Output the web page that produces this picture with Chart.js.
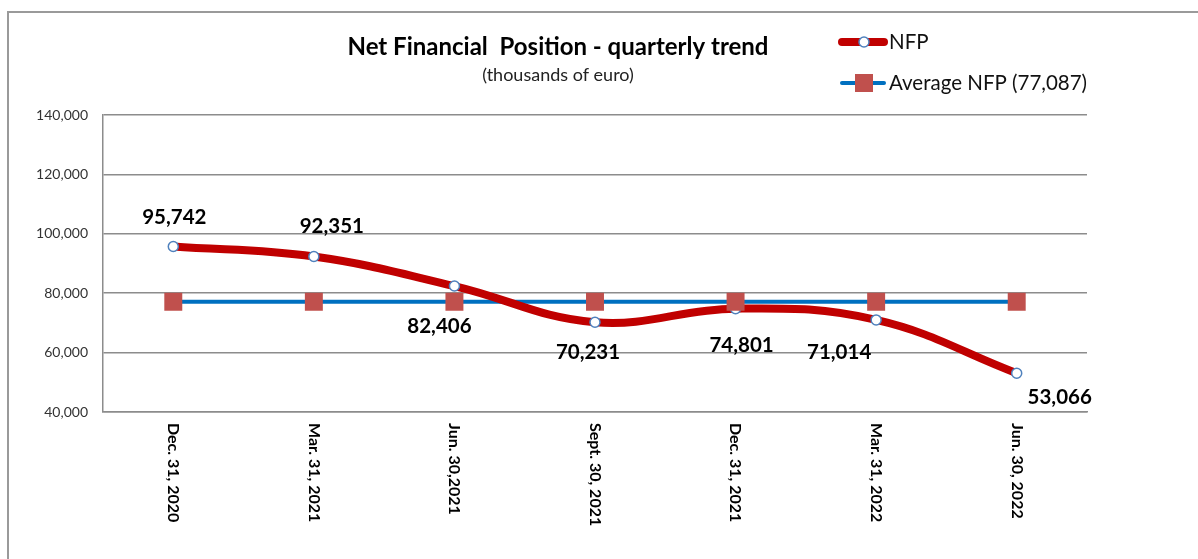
<!DOCTYPE html>
<html>
<head>
<meta charset="utf-8">
<script src="https://cdn.jsdelivr.net/npm/chart.js@4/dist/chart.umd.min.js"></script>
<style>
  html, body { margin: 0; padding: 0; background: #fff; }
  #wrap { position: relative; width: 1198px; height: 559px; }
  #frame { position: absolute; left: 7px; top: 11px; right: 0; bottom: 0; border-top: 2px solid #9a9a9a; border-left: 2px solid #9a9a9a; pointer-events: none; }
  canvas { position: absolute; left: 0; top: 0; }
</style>
</head>
<body>
<div id="wrap">
  <canvas id="c" width="1198" height="559"></canvas>
  <div id="frame"></div>
</div>
<script>
const categories = ["Dec. 31, 2020", "Mar. 31, 2021", "Jun. 30,2021", "Sept. 30, 2021", "Dec. 31, 2021", "Mar. 31, 2022", "Jun. 30, 2022"];
const nfpValues = [95742, 92351, 82406, 70231, 74801, 71014, 53066];
const avgValues = [77087, 77087, 77087, 77087, 77087, 77087, 77087];
const yTicks = [40000, 60000, 80000, 100000, 120000, 140000];
const titleText = "Net Financial  Position - quarterly trend";
const subtitleText = "(thousands of euro)";
const legendNFP = "NFP";
const legendAvg = "Average NFP (77,087)";

const FONT = "Lato, 'Liberation Sans', sans-serif";
const RED = "#C00000";
const BLUE = "#0070C0";
const MARK = "#C0504D";
const PBLUE = "#4F81BD";

// label offsets relative to each NFP point (dx, dy)
const labelOffsets = [[1,-29],[18,-30],[-15,40],[-7,30],[6,37],[-37,33],[43,24]];

const fmt = v => v.toLocaleString('en-US');

const decor = {
  id: 'decor',
  afterDraw(chart) {
    const ctx = chart.ctx;
    const xs = chart.scales.x, ys = chart.scales.y;
    ctx.save();
    // title
    ctx.fillStyle = '#000';
    ctx.textAlign = 'center';
    ctx.textBaseline = 'middle';
    ctx.font = "bold 24px " + FONT;
    ctx.fillText(titleText, 558, 47);
    ctx.fillStyle = '#222';
    ctx.font = "18px " + FONT;
    ctx.fillText(subtitleText, 558, 75);

    // legend
    ctx.lineCap = 'round';
    ctx.strokeStyle = RED; ctx.lineWidth = 8;
    ctx.beginPath(); ctx.moveTo(842, 42); ctx.lineTo(884, 42); ctx.stroke();
    ctx.fillStyle = '#fff'; ctx.strokeStyle = PBLUE; ctx.lineWidth = 1.5;
    ctx.beginPath(); ctx.arc(864, 42, 5, 0, Math.PI*2); ctx.fill(); ctx.stroke();
    ctx.strokeStyle = BLUE; ctx.lineWidth = 4;
    ctx.beginPath(); ctx.moveTo(842, 83); ctx.lineTo(884, 83); ctx.stroke();
    ctx.fillStyle = MARK; ctx.fillRect(855, 74, 18, 18);
    ctx.fillStyle = '#111';
    ctx.textAlign = 'left';
    ctx.font = "20.5px " + FONT;
    ctx.fillText(legendNFP, 889, 42);
    ctx.fillText(legendAvg, 889, 83);

    // data labels
    ctx.font = "bold 20.5px " + FONT;
    ctx.textAlign = 'center';
    ctx.fillStyle = '#000';
    nfpValues.forEach((v, i) => {
      const px = xs.getPixelForValue(i), py = ys.getPixelForValue(v);
      ctx.fillText(fmt(v), px + labelOffsets[i][0], py + labelOffsets[i][1]);
    });

    // x tick labels rotated clockwise
    ctx.font = "bold 16px " + FONT;
    ctx.fillStyle = '#000';
    ctx.textAlign = 'left';
    ctx.textBaseline = 'middle';
    categories.forEach((c, i) => {
      const px = xs.getPixelForValue(i);
      ctx.save();
      ctx.translate(px, ys.bottom + 11);
      ctx.rotate(Math.PI / 2);
      ctx.fillText(c, 0, 0);
      ctx.restore();
    });
    ctx.restore();
  }
};

new Chart(document.getElementById('c'), {
  type: 'line',
  data: {
    labels: categories,
    datasets: [
      { label: legendAvg, data: avgValues, borderColor: BLUE, borderWidth: 4, pointRadius: 0, tension: 0, order: 3 },
      { label: legendNFP, data: nfpValues, borderColor: RED, borderWidth: 8, tension: 0.4,
        pointRadius: 5, pointBackgroundColor: '#fff', pointBorderColor: PBLUE, pointBorderWidth: 1.5, order: 2 },
      { label: legendAvg + ' markers', data: avgValues, showLine: false, pointStyle: 'rect', pointRadius: 12.7,
        pointBackgroundColor: MARK, pointBorderColor: MARK, pointBorderWidth: 0, order: 1 }
    ]
  },
  options: {
    responsive: false,
    animation: false,
    events: [],
    layout: { padding: { left: 0, right: 111, top: 115, bottom: 0 } },
    plugins: { legend: { display: false }, title: { display: false }, tooltip: { enabled: false } },
    scales: {
      x: {
        offset: true,
        grid: { display: false },
        border: { display: true, color: '#8c8c8c', width: 1.5 },
        ticks: { display: false },
        afterFit: s => { s.height = 147; }
      },
      y: {
        min: 40000, max: 140000,
        afterBuildTicks: s => { s.ticks = yTicks.map(v => ({ value: v })); },
        afterFit: s => { s.width = 103; },
        grid: { color: '#8c8c8c', lineWidth: 1.5, drawTicks: false },
        border: { display: true, color: '#8c8c8c', width: 1.5 },
        ticks: { padding: 15, color: '#333', font: { family: FONT, size: 14 }, callback: v => fmt(v) }
      }
    }
  },
  plugins: [decor]
});
</script>
</body>
</html>
